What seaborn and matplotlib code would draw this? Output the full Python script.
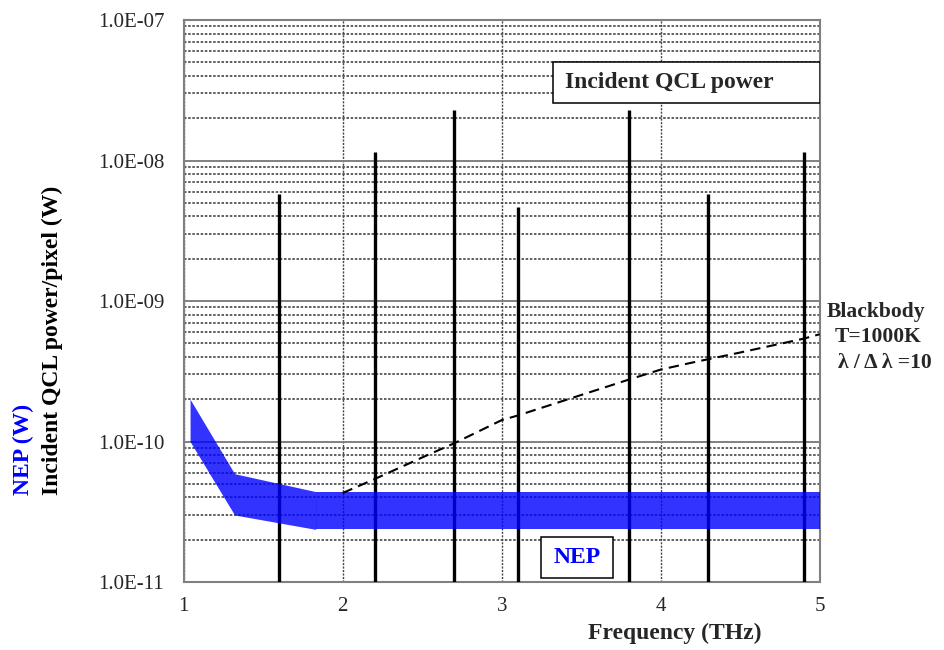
import numpy as np
import pandas as pd
import matplotlib
matplotlib.use("Agg")
import matplotlib.pyplot as plt
import seaborn as sns
from matplotlib.ticker import FixedLocator, LogLocator, NullFormatter, FuncFormatter
from matplotlib.patches import Rectangle

# ---- data ----
qcl_freq = [1.60, 2.20, 2.70, 3.10, 3.80, 4.30, 4.90]          # THz
qcl_power = [5.8e-9, 1.15e-8, 2.3e-8, 4.7e-9, 2.3e-8, 5.8e-9, 1.15e-8]  # W

nep_freq = [1.04, 1.32, 1.83, 5.00]
nep_upper = [2.0e-10, 5.9e-11, 4.4e-11, 4.4e-11]
nep_lower = [1.0e-10, 3.0e-11, 2.37e-11, 2.37e-11]

bb_freq = [2.0, 2.2, 2.5, 2.7, 3.0, 3.1, 3.4, 3.8, 4.0, 4.2, 4.5, 4.9, 5.0]
bb_power = [4.3e-11, 5.4e-11, 7.7e-11, 9.7e-11, 1.42e-10, 1.53e-10, 1.97e-10,
            2.76e-10, 3.25e-10, 3.65e-10, 4.3e-10, 5.4e-10, 5.8e-10]

y_ticks = [1e-11, 1e-10, 1e-9, 1e-8, 1e-7]
x_ticks = [1, 2, 3, 4, 5]

# ---- style ----
sns.set_style("white")
plt.rcParams['font.family'] = ['Liberation Serif', 'DejaVu Serif']
BLUE = "#0000FF"
GRID = "#808080"

fig = plt.figure(figsize=(9.45, 6.5), dpi=100)
ax = fig.add_axes([0.1944, 0.1046, 0.6730, 0.8646])

# NEP band (two pieces, like the original)
ax.fill_between(nep_freq[:3], nep_lower[:3], nep_upper[:3],
                color=BLUE, alpha=0.8, lw=0, zorder=4)
ax.fill_between(nep_freq[2:], nep_lower[2:], nep_upper[2:],
                color=BLUE, alpha=0.8, lw=0, zorder=4)

# QCL lines
ax.vlines(qcl_freq, 1e-11, qcl_power, color="black", lw=2.4, zorder=3)

# blackbody curve
bb = pd.DataFrame({"f": bb_freq, "p": bb_power})
sns.lineplot(data=bb, x="f", y="p", ax=ax, color="black", lw=1.5,
             linestyle=(0, (5, 3)), zorder=5)

ax.set_yscale("log")
ax.set_xlim(1, 5)
ax.set_ylim(1e-11, 1e-7)
ax.xaxis.set_major_locator(FixedLocator(x_ticks))
ax.yaxis.set_major_locator(FixedLocator(y_ticks))
ax.yaxis.set_minor_locator(LogLocator(base=10, subs=np.arange(2, 10)))
ax.yaxis.set_minor_formatter(NullFormatter())
ax.yaxis.set_major_formatter(FuncFormatter(
    lambda v, p: "1.0E-%02d" % round(-np.log10(v))))

ax.grid(which="major", axis="y", color=GRID, lw=1.4, ls="-", zorder=1)
ax.grid(which="minor", axis="y", color="#444444", lw=1.2, ls=(0, (1.5, 1)), zorder=1)
ax.grid(which="major", axis="x", color="#444444", lw=1.0, ls=(0, (1.5, 1)), zorder=1)
ax.set_axisbelow(True)

ax.tick_params(which="both", length=0)
ax.tick_params(axis="y", pad=14, labelsize=15)
ax.tick_params(axis="x", pad=11, labelsize=15)
for s in ax.spines.values():
    s.set_color(GRID)
    s.set_linewidth(1.5)

ax.set_xlabel("Frequency (THz)", fontsize=17, fontweight="bold")
ax.xaxis.set_label_coords(0.772, -0.073)
ax.set_ylabel("")

# y labels (two colours)
fig.text(0.055, 0.2385, "Incident QCL power/pixel (W)", rotation=90,
         ha="center", va="bottom", fontsize=17, fontweight="bold", color="black")
fig.text(0.0243, 0.2385, "NEP (W)", rotation=90,
         ha="center", va="bottom", fontsize=17, fontweight="bold", color=BLUE)

# boxes
ax.add_patch(Rectangle((0.5807, 0.852), 0.4193, 0.073, transform=ax.transAxes,
                       facecolor="white", edgecolor="black", lw=1.1, zorder=6))
ax.text(0.5996, 0.888, "Incident QCL power", transform=ax.transAxes,
        ha="left", va="center", fontsize=17, fontweight="bold", zorder=7)

ax.add_patch(Rectangle((0.5618, 0.0071), 0.1132, 0.0729, transform=ax.transAxes,
                       facecolor="white", edgecolor="black", lw=1.1, zorder=6))
ax.text(0.618, 0.0436, "NEP", transform=ax.transAxes, color=BLUE,
        ha="center", va="center", fontsize=17, fontweight="bold", zorder=7)

# blackbody annotation
ax.text(1.011, 0.480, "Blackbody", transform=ax.transAxes, ha="left",
        va="center", fontsize=15.5, fontweight="bold", clip_on=False)
ax.text(1.024, 0.436, "T=1000K", transform=ax.transAxes, ha="left",
        va="center", fontsize=15.5, fontweight="bold", clip_on=False)
ax.text(1.029, 0.390, "λ / Δ λ =10", transform=ax.transAxes, ha="left",
        va="center", fontsize=15.5, fontweight="bold", clip_on=False)

fig.savefig("out.png", dpi=100)
